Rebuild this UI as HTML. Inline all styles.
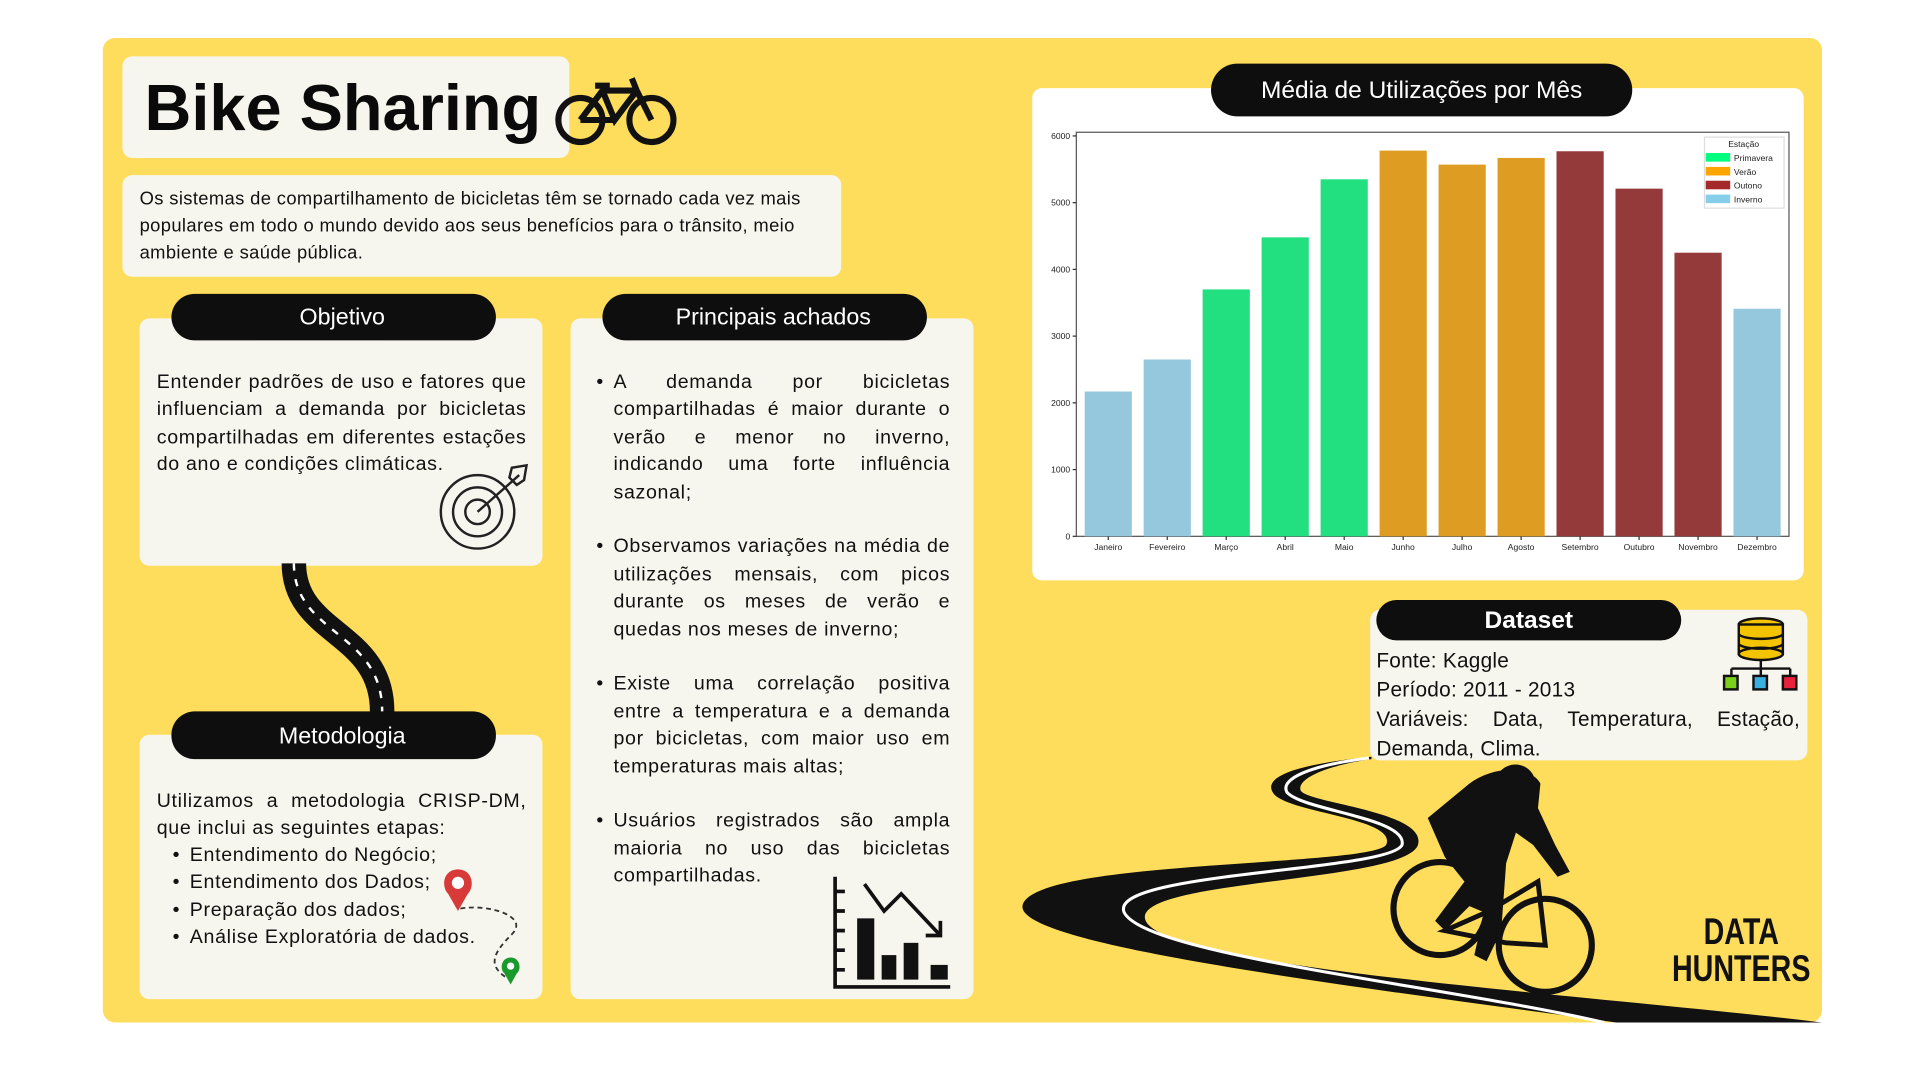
<!DOCTYPE html>
<html><head><meta charset="utf-8">
<style>
html,body{margin:0;padding:0;background:#fff;}
body{width:1920px;height:1080px;overflow:hidden;font-family:"Liberation Sans",sans-serif;}
#stage{position:absolute;left:0;top:0;width:1568px;height:882px;transform:scale(1.22449);transform-origin:0 0;}
.abs{position:absolute;}
.card{position:absolute;background:#F7F6EE;border-radius:8px;}
.pill{position:absolute;background:#0e0e0e;color:#fff;border-radius:19px;text-align:center;font-size:19px;box-sizing:border-box;padding-left:14px;}
.txt{position:absolute;font-size:16px;color:#111;line-height:22.4px;text-align:justify;letter-spacing:0.55px;}
ul{margin:0;padding:0;list-style:none;}
li{position:relative;}
li::before{content:"•";position:absolute;left:-14px;}
</style></head><body>
<div id="stage">
  <div class="abs" style="left:84px;top:31px;width:1404px;height:804px;background:#FEDD5C;border-radius:10px;"></div>

  <div class="card" style="left:100px;top:46px;width:365px;height:83px;"></div>
  <div class="abs" style="left:118px;top:58px;font-size:53px;font-weight:bold;color:#0a0a0a;">Bike Sharing</div>
  <svg class="abs" style="left:452px;top:58px" width="104" height="64" viewBox="0 0 104 64">
    <g fill="none" stroke="#111" stroke-width="5">
      <circle cx="22" cy="40" r="18"/><circle cx="80" cy="40" r="18"/>
      <path d="M22 40 L40 16 L68 16 L80 40 M40 16 L50 40 L68 16 M50 40 L22 40 M64 6 L68 16 M34 12 L46 12"/>
    </g>
  </svg>

  <div class="card" style="left:100px;top:143px;width:587px;height:83px;"></div>
  <div class="txt" style="left:114px;top:152px;width:568px;font-size:15px;line-height:22px;text-align:left;letter-spacing:0.3px;">Os sistemas de compartilhamento de bicicletas têm se tornado cada vez mais populares em todo o mundo devido aos seus benefícios para o trânsito, meio ambiente e saúde pública.</div>

  <!-- Objetivo -->
  <div class="card" style="left:114px;top:260px;width:329px;height:202px;"></div>
  <div class="pill" style="left:140px;top:240px;width:265px;height:38px;line-height:40px;">Objetivo</div>
  <div class="txt" style="left:128px;top:302px;width:302px;">Entender padrões de uso e fatores que influenciam a demanda por bicicletas compartilhadas em diferentes estações do ano e condições climáticas.</div>
  <svg class="abs" style="left:356px;top:378px" width="80" height="74" viewBox="0 0 80 74">
    <g fill="none" stroke="#222" stroke-width="2">
      <circle cx="34" cy="40" r="30"/><circle cx="34" cy="40" r="20"/><circle cx="34" cy="40" r="10"/>
      <path d="M34 40 L68 10 M62 4 L74 2 L72 14 L66 18 L60 12 Z"/>
    </g>
  </svg>

  <svg class="abs" style="left:220px;top:460px" width="120" height="125" viewBox="0 0 120 125">
    <path d="M20 0 C20 60 95 55 92 125" fill="none" stroke="#111" stroke-width="20"/>
    <path d="M20 0 C20 60 95 55 92 125" fill="none" stroke="#fff" stroke-width="2" stroke-dasharray="6 7"/>
  </svg>

  <!-- Metodologia -->
  <div class="card" style="left:114px;top:600px;width:329px;height:216px;"></div>
  <div class="pill" style="left:140px;top:581px;width:265px;height:39px;line-height:41px;">Metodologia</div>
  <div class="txt" style="left:128px;top:644px;width:302px;">Utilizamos a metodologia CRISP-DM, que inclui as seguintes etapas:</div>
  <ul class="txt" style="left:155px;top:688px;width:290px;text-align:left;">
    <li>Entendimento do Negócio;</li>
    <li>Entendimento dos Dados;</li>
    <li>Preparação dos dados;</li>
    <li>Análise Exploratória de dados.</li>
  </ul>
  <svg class="abs" style="left:358px;top:708px" width="72" height="100" viewBox="0 0 72 100">
    <path d="M16 2 C4 2 2 16 8 22 L16 36 L24 22 C30 16 28 2 16 2 Z" fill="#d83a3a"/><circle cx="16" cy="13" r="5" fill="#fff"/>
    <path d="M18 34 C40 30 75 40 60 55 C45 70 40 80 55 90" fill="none" stroke="#333" stroke-width="1.5" stroke-dasharray="4 3"/>
    <path d="M59 74 C51 74 50 84 54 87 L59 96 L64 87 C68 84 67 74 59 74 Z" fill="#1a9a2a"/><circle cx="59" cy="81" r="3" fill="#fff"/>
  </svg>

  <!-- Principais achados -->
  <div class="card" style="left:466px;top:260px;width:329px;height:556px;"></div>
  <div class="pill" style="left:492px;top:240px;width:265px;height:38px;line-height:40px;">Principais achados</div>
  <ul class="txt" style="left:501px;top:302px;width:275px;">
    <li style="margin-bottom:22.4px;">A demanda por bicicletas compartilhadas é maior durante o verão e menor no inverno, indicando uma forte influência sazonal;</li>
    <li style="margin-bottom:22.4px;">Observamos variações na média de utilizações mensais, com picos durante os meses de verão e quedas nos meses de inverno;</li>
    <li style="margin-bottom:22.4px;">Existe uma correlação positiva entre a temperatura e a demanda por bicicletas, com maior uso em temperaturas mais altas;</li>
    <li>Usuários registrados são ampla maioria no uso das bicicletas compartilhadas.</li>
  </ul>
  <svg class="abs" style="left:676px;top:714px" width="104" height="96" viewBox="0 0 104 96">
    <g stroke="#111" stroke-width="3" fill="none"><path d="M6 2 L6 92 L100 92"/><path d="M6 14h8M6 30h8M6 46h8M6 62h8M6 78h8"/>
    <path d="M30 8 L46 30 L60 16 L92 50 M80 50 L92 50 L92 38"/></g>
    <g fill="#111"><rect x="24" y="36" width="14" height="50"/><rect x="44" y="66" width="12" height="20"/><rect x="62" y="56" width="12" height="30"/><rect x="84" y="74" width="14" height="12"/></g>
  </svg>

  <!-- Chart -->
  <div class="abs" style="left:843px;top:72px;width:630px;height:402px;background:#fff;border-radius:8px;"></div>
  <div class="pill" style="left:989px;top:52px;width:344px;height:43px;line-height:45px;border-radius:22px;font-size:20px;padding-left:0;">Média de Utilizações por Mês</div>
  <svg id="chart" class="abs" style="left:0;top:0" width="1568" height="882"></svg>

  <!-- Dataset -->
  <div class="card" style="left:1119px;top:498px;width:357px;height:123px;"></div>
  <div class="pill" style="left:1124px;top:490px;width:249px;height:33px;line-height:35px;font-weight:bold;font-size:20px;padding-left:0;">Dataset</div>
  <div class="txt" style="left:1124px;top:528px;width:346px;font-size:17px;line-height:24px;letter-spacing:0.2px;">Fonte: Kaggle<br>Período: 2011 - 2013<br>Variáveis: Data, Temperatura, Estação, Demanda, Clima.</div>
  <svg class="abs" style="left:1404px;top:502px" width="68" height="64" viewBox="0 0 68 64">
    <g stroke="#111" stroke-width="2"><ellipse cx="34" cy="8" rx="18" ry="5" fill="#f5c400"/><rect x="16" y="8" width="36" height="24" fill="#f5c400"/><ellipse cx="34" cy="32" rx="18" ry="5" fill="#f5c400"/>
    <path d="M16 16 C20 21 48 21 52 16 M16 24 C20 29 48 29 52 24" fill="none"/>
    <path d="M34 37 V44 M10 44 H58 M10 44 V50 M34 44 V50 M58 44 V50" fill="none"/>
    <rect x="4" y="50" width="11" height="11" fill="#7bd11a"/><rect x="28" y="50" width="11" height="11" fill="#3ab0e0"/><rect x="52" y="50" width="11" height="11" fill="#e8203a"/></g>
  </svg>

  <svg class="abs" style="left:0;top:0" width="1568" height="882" viewBox="0 0 1568 882">
    <path d="M1120 618 C1060 624 1030 634 1040 648 C1052 664 1142 668 1132 690 C1120 708 840 702 835 740 C832 772 1100 805 1320 835 L1488 835 C1300 812 930 790 935 748 C940 718 1148 720 1158 690 C1166 662 1064 656 1062 645 C1060 634 1090 624 1120 620 Z" fill="#111"/>
    <path d="M1118 619 C1070 625 1045 636 1051 647 C1064 662 1150 668 1145 690 C1135 712 905 712 918 745 C935 780 1180 805 1310 835" fill="none" stroke="#fff" stroke-width="2.5"/>
    <g stroke="#111" fill="none" stroke-width="5">
      <circle cx="1176" cy="742" r="38"/><circle cx="1262" cy="772" r="38"/>
    </g>
    <g fill="#111">
      <path d="M1200 640 C1220 625 1250 625 1258 640 L1256 660 L1270 690 L1282 712 L1272 716 L1252 690 L1238 680 L1230 705 L1226 760 L1214 785 L1204 780 L1212 745 L1200 740 L1180 760 L1172 752 L1196 720 L1180 700 L1166 668 Z"/>
      <path d="M1225 630 C1236 618 1256 626 1254 644 L1236 646 Z"/>
      <path d="M1180 760 L1230 770 L1262 772 L1256 720 L1214 745 Z" fill="none" stroke="#111" stroke-width="4"/>
    </g>
    <g transform="translate(1422,0) scale(0.78,1)">
      <text x="0" y="771" text-anchor="middle" font-family="Liberation Sans, sans-serif" font-weight="bold" font-size="30" fill="#111">DATA</text>
      <text x="0" y="801" text-anchor="middle" font-family="Liberation Sans, sans-serif" font-weight="bold" font-size="30" fill="#111">HUNTERS</text>
    </g>
  </svg>
</div>
<script>
const months=["Janeiro","Fevereiro","Março","Abril","Maio","Junho","Julho","Agosto","Setembro","Outubro","Novembro","Dezembro"];
const values=[2170,2650,3700,4480,5350,5780,5570,5670,5770,5210,4250,3410];
const seasons=["Inverno","Inverno","Primavera","Primavera","Primavera","Verão","Verão","Verão","Outono","Outono","Outono","Inverno"];
const yTicks=[0,1000,2000,3000,4000,5000,6000];
const legendSeasons=["Primavera","Verão","Outono","Inverno"];
const barColors={"Primavera":"#22DF7F","Verão":"#DF9C22","Outono":"#953A3A","Inverno":"#96C8DD"};
const legendColors={"Primavera":"#00FF7F","Verão":"#FFA500","Outono":"#A52A2A","Inverno":"#87CEEB"};
const NS="http://www.w3.org/2000/svg";
const svg=document.getElementById('chart');
const X0=879,X1=1461,Y0=438,Y1=108,YMAX=6000;
const y=v=>Y0-(v/YMAX)*(Y0-111);
const band=(X1-X0-4)/months.length;
const x=i=>X0+2+i*band;
function mk(t,a){const e=document.createElementNS(NS,t);for(const k in a)e.setAttribute(k,a[k]);svg.appendChild(e);return e;}
const frame=mk('rect',{x:X0,y:Y1,width:X1-X0,height:Y0-Y1,fill:'none',stroke:'#555','stroke-width':1});


yTicks.forEach(t=>{
  const l=mk('line',{x1:X0-3,x2:X0,y1:y(t),y2:y(t),stroke:'#333'});
  
  
  const tx=mk('text',{x:X0-5,y:y(t)+2.5,'text-anchor':'end','font-size':7,'font-family':'Liberation Sans, sans-serif',fill:'#222'});
  tx.textContent=t;
  
  
});
months.forEach((m,i)=>{
  const w=band*0.8;
  const r=mk('rect',{x:x(i)+band*0.1,y:y(values[i]),width:w,height:Y0-y(values[i]),fill:barColors[seasons[i]]});
  
  
  const cx=x(i)+band/2;
  mk('line',{x1:cx,x2:cx,y1:Y0,y2:Y0+3,stroke:'#333'});
  const tx=mk('text',{x:cx,y:Y0+11,'text-anchor':'middle','font-size':7,'font-family':'Liberation Sans, sans-serif',fill:'#222'});
  tx.textContent=m;
  
  
});
const lg=mk('rect',{x:1392,y:112,width:65,height:58,fill:'#fff',stroke:'#ddd'});


const lt=mk('text',{x:1424,y:120,'text-anchor':'middle','font-size':7,'font-family':'Liberation Sans, sans-serif',fill:'#222'});
lt.textContent='Estação';


legendSeasons.forEach((s,i)=>{
  const yy=125+i*11.3;
  const sw=mk('rect',{x:1393,y:yy,width:20,height:7,fill:legendColors[s]});
  
  
  const t=mk('text',{x:1416,y:yy+6.5,'font-size':7,'font-family':'Liberation Sans, sans-serif',fill:'#222'});
  t.textContent=s;
  
  
});
</script>
</body></html>
